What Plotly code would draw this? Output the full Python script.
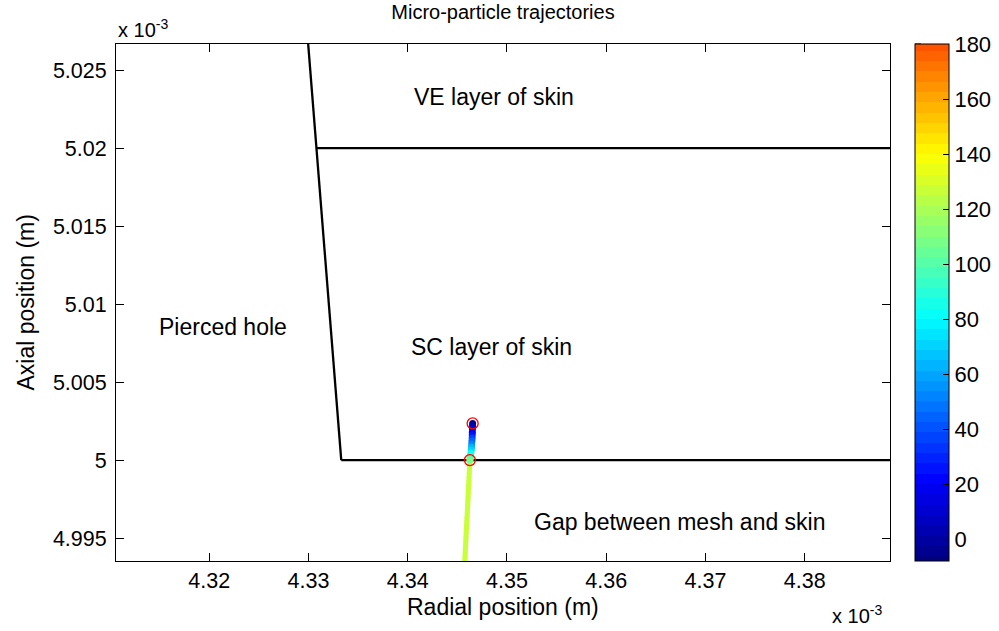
import plotly.graph_objects as go

# ---------------- data (units of 1e-3 m) ----------------
hole_r = [4.3333, 4.3308, 4.3283]
hole_z = [5.0000, 5.0200, 5.0400]
sc_bottom_r = [4.3333, 4.4000]
sc_bottom_z = [5.0000, 5.0000]
ve_r = [4.3308, 4.4000]
ve_z = [5.0200, 5.0200]

up_r = [4.34654, 4.34653, 4.34652, 4.34651, 4.34650, 4.34649, 4.34647,
        4.34645, 4.34643, 4.34640, 4.34636, 4.34632, 4.34628, 4.34626]
up_z = [5.00235, 5.00218, 5.00199, 5.00179, 5.00160, 5.00141, 5.00122,
        5.00103, 5.00083, 5.00064, 5.00045, 5.00026, 5.00006, 5.00000]
up_v = [-5, 2, 10, 18, 26, 35, 44, 53, 62, 72, 82, 92, 102, 108]

low_r = [4.34625, 4.34623, 4.34621, 4.34619, 4.34617, 4.34615, 4.34613,
         4.34611, 4.34609, 4.34607, 4.34605, 4.34603, 4.34601, 4.34599,
         4.34596, 4.34594, 4.34592, 4.34590, 4.34588, 4.34586, 4.34584,
         4.34582, 4.34580, 4.34578, 4.34576, 4.34574]
low_z = [4.99981, 4.99955, 4.99929, 4.99904, 4.99878, 4.99853, 4.99827,
         4.99801, 4.99776, 4.99750, 4.99724, 4.99699, 4.99673, 4.99647,
         4.99622, 4.99596, 4.99571, 4.99545, 4.99519, 4.99494, 4.99468,
         4.99442, 4.99417, 4.99391, 4.99365, 4.99340]
low_v = [127, 127, 128, 128, 128, 128, 128, 128, 128, 128, 128, 128, 128,
         128, 128, 128, 128, 128, 128, 128, 128, 128, 128, 128, 128, 128]

circ_r = [4.34654, 4.34626]
circ_z = [5.00235, 5.00000]

x_ticks = [4.32, 4.33, 4.34, 4.35, 4.36, 4.37, 4.38]
x_ticktext = ["4.32", "4.33", "4.34", "4.35", "4.36", "4.37", "4.38"]
y_ticks = [4.995, 5.0, 5.005, 5.01, 5.015, 5.02, 5.025]
y_ticktext = ["4.995", "5", "5.005", "5.01", "5.015", "5.02", "5.025"]
cb_ticks = [0, 20, 40, 60, 80, 100, 120, 140, 160, 180]

labels = ["VE layer of skin", "SC layer of skin", "Pierced hole", "Gap between mesh and skin"]
label_r = [4.3404, 4.3401, 4.31475, 4.35253]
label_z = [5.02327, 5.00724, 5.00853, 4.99603]

# ---------------- colormap (stepped jet) ----------------
CLIM_LO, CLIM_HI = -10.0, 230.0
CMIN, CMAX = -8.0, 180.0
N = 64
def jet(f):
    r = min(max(1.5 - abs(4 * f - 3), 0), 1)
    g = min(max(1.5 - abs(4 * f - 2), 0), 1)
    b = min(max(1.5 - abs(4 * f - 1), 0), 1)
    return "rgb(%d,%d,%d)" % (round(r * 255), round(g * 255), round(b * 255))

cs = []
band = (CLIM_HI - CLIM_LO) / N
for i in range(N):
    lo = CLIM_LO + i * band
    hi = lo + band
    a = (max(lo, CMIN) - CMIN) / (CMAX - CMIN)
    b = (min(hi, CMAX) - CMIN) / (CMAX - CMIN)
    if b <= 0 or a >= 1:
        continue
    a = max(a, 0.0); b = min(b, 1.0)
    c = jet(i / (N - 1))
    cs.append([a, c]); cs.append([b, c])
cs[0][0] = 0.0
cs[-1][0] = 1.0

FONT = "Liberation Sans, Arial, sans-serif"
TICK_SIZE = 21.5
LABEL_SIZE = 23
PLOT_W, PLOT_H = 774, 517
CB_X0 = (915 - 116) / PLOT_W

fig = go.Figure()
for xs, ys in [(hole_r, hole_z), (sc_bottom_r, sc_bottom_z), (ve_r, ve_z)]:
    fig.add_trace(go.Scatter(x=xs, y=ys, mode="lines",
                             line=dict(color="black", width=2.3),
                             showlegend=False, hoverinfo="skip"))

fig.add_trace(go.Scatter(x=low_r, y=low_z, mode="markers",
                         marker=dict(size=5, symbol="square", color=low_v,
                                     colorscale=cs, cmin=CMIN, cmax=CMAX,
                                     showscale=False, line=dict(width=0)),
                         showlegend=False))
fig.add_trace(go.Scatter(x=up_r, y=up_z, mode="markers",
                         marker=dict(size=7, symbol="circle", color=up_v,
                                     colorscale=cs, cmin=CMIN, cmax=CMAX,
                                     showscale=True, line=dict(width=0),
                                     colorbar=dict(
                                         x=CB_X0, xanchor="left",
                                         y=0.5, yanchor="middle",
                                         len=1.0, lenmode="fraction",
                                         thickness=34, thicknessmode="pixels",
                                         outlinecolor="black", outlinewidth=1,
                                         ticks="inside", ticklen=6,
                                         tickcolor="black",
                                         tickvals=cb_ticks,
                                         tickfont=dict(family=FONT, size=22, color="black"),
                                         xpad=0, ypad=0)),
                         showlegend=False))
fig.add_trace(go.Scatter(x=circ_r, y=circ_z, mode="markers",
                         marker=dict(size=11, symbol="circle-open",
                                     color="red", line=dict(width=1.3, color="red")),
                         showlegend=False))

# left-side ticks of the colorbar (MATLAB draws ticks on both sides)
for v in cb_ticks:
    yp = (v - CMIN) / (CMAX - CMIN)
    fig.add_shape(type="line", xref="paper", yref="paper",
                  x0=CB_X0, x1=CB_X0 + 6 / PLOT_W, y0=yp, y1=yp,
                  line=dict(color="black", width=1))

for t, xr, yz in zip(labels, label_r, label_z):
    fig.add_annotation(x=xr, y=yz, text=t, showarrow=False, xanchor="left",
                       yanchor="middle", font=dict(family=FONT, size=LABEL_SIZE, color="black"))

# axis titles & exponent labels
fig.add_annotation(xref="paper", yref="paper", x=0.5, y=-46 / PLOT_H, text="Radial position (m)",
                   showarrow=False, xanchor="center", yanchor="middle",
                   font=dict(family=FONT, size=LABEL_SIZE, color="black"))
fig.add_annotation(xref="paper", yref="paper", x=-91 / PLOT_W, y=0.5, text="Axial position (m)",
                   showarrow=False, textangle=-90, xanchor="center", yanchor="middle",
                   font=dict(family=FONT, size=LABEL_SIZE, color="black"))
fig.add_annotation(xref="paper", yref="paper", x=0, y=1, yshift=1, text="x 10<sup>-3</sup>",
                   showarrow=False, xanchor="left", yanchor="bottom",
                   font=dict(family=FONT, size=20, color="black"))
fig.add_annotation(xref="paper", yref="paper", x=(830 - 116) / PLOT_W, y=-53 / PLOT_H,
                   text="x 10<sup>-3</sup>",
                   showarrow=False, xanchor="left", yanchor="middle",
                   font=dict(family=FONT, size=20, color="black"))

axis_common = dict(showgrid=False, zeroline=False, showline=True, linecolor="black",
                   linewidth=1, mirror="ticks", ticks="inside", ticklen=8,
                   tickcolor="black", tickwidth=1,
                   tickfont=dict(family=FONT, size=TICK_SIZE, color="black"))
fig.update_xaxes(range=[4.3106, 4.3886], tickvals=x_ticks, ticktext=x_ticktext,
                 ticklabelstandoff=0, **axis_common)
fig.update_yaxes(range=[4.99353, 5.02667], tickvals=y_ticks, ticktext=y_ticktext,
                 ticklabelstandoff=4, **axis_common)

fig.update_layout(
    width=999, height=631,
    margin=dict(l=116, r=109, t=44, b=70, autoexpand=False),
    paper_bgcolor="white", plot_bgcolor="white",
    title=dict(text="Micro-particle trajectories", x=0.5, xref="paper",
               y=1 - 12 / 631, yref="container", yanchor="middle",
               font=dict(family=FONT, size=20, color="black")),
    font=dict(family=FONT, color="black"),
)

fig.write_html("out.html")
